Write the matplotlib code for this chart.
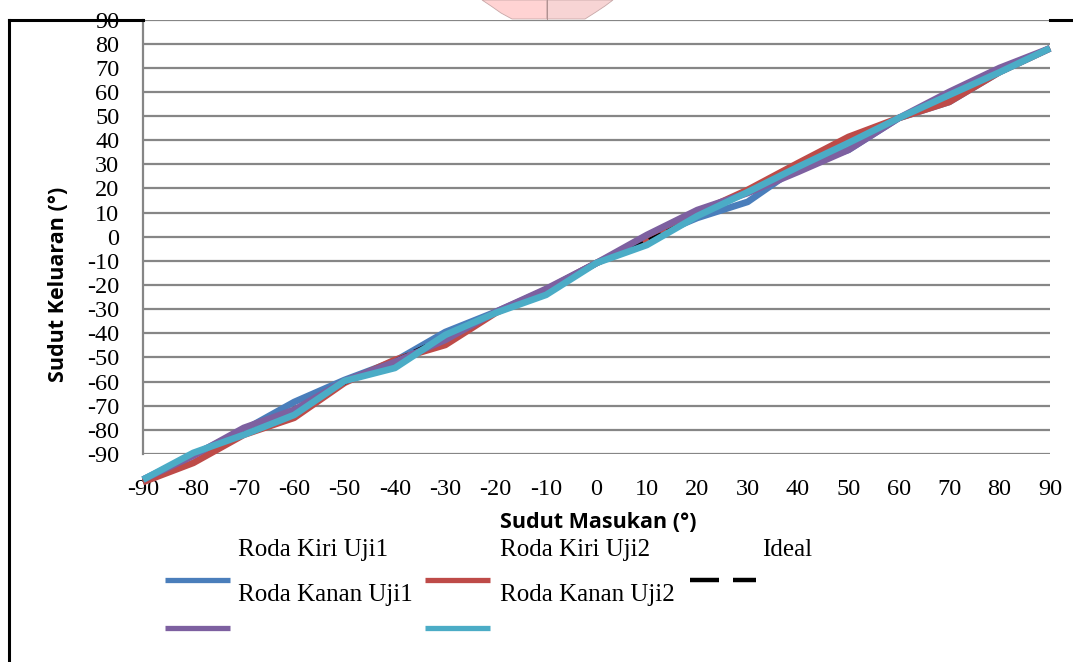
import numpy as np
import matplotlib
matplotlib.use("Agg")
import matplotlib.pyplot as plt
from matplotlib.lines import Line2D
from matplotlib.patches import Polygon

# ---------------- data ----------------
x_input = [-90, -80, -70, -60, -50, -40, -30, -20, -10, 0, 10, 20, 30, 40, 50, 60, 70, 80, 90]
roda_kiri_uji1 = [-90, -79.7, -69.3, -57.6, -48.4, -40.5, -28.4, -20, -10.8, 0.4, 10.4, 19.2, 25.9, 40.5, 47.6, 60.9, 67.6, 80.1, 89.9]
roda_kiri_uji2 = [-91, -83, -71.3, -64.2, -49.6, -40, -33.8, -20.4, -10.8, 0.4, 10, 21.3, 30.9, 42.1, 53, 60.9, 67.6, 80.1, 90]
ideal = [-90, -80, -70, -60, -50, -40, -30, -20, -10, 0, 10, 20, 30, 40, 50, 60, 70, 80, 90]
roda_kanan_uji1 = [-90, -80, -68.4, -60.9, -48.8, -40.9, -31.7, -20, -10.4, 0.4, 12.1, 22.5, 29.6, 38.4, 47.6, 60.9, 71.8, 81.8, 90]
roda_kanan_uji2 = [-90, -78.8, -71.3, -63, -48.8, -43.4, -29.6, -20.4, -12.9, 0.4, 7.9, 20, 30, 40.5, 50.5, 60.9, 70.5, 80, 90]

x_tick_labels = ["-90", "-80", "-70", "-60", "-50", "-40", "-30", "-20", "-10", "0",
                 "10", "20", "30", "40", "50", "60", "70", "80", "90"]
y_tick_labels = ["-90", "-80", "-70", "-60", "-50", "-40", "-30", "-20", "-10", "0",
                 "10", "20", "30", "40", "50", "60", "70", "80", "90"]

series_names = ["Roda Kiri Uji1", "Roda Kiri Uji2", "Ideal", "Roda Kanan Uji1", "Roda Kanan Uji2"]

# ---------------- style ----------------
W, H = 1073, 662
C_BLUE = "#4A7EBB"
C_RED = "#BE4B48"
C_PURPLE = "#7D60A0"
C_CYAN = "#4BACC6"
C_GRID = "#868686"
SERIF = "Liberation Serif"
SANS = "Open Sans"

def fx(px):
    return px / W

def fy(py):
    return 1 - py / H

fig = plt.figure(figsize=(W / 100, H / 100), dpi=100)
fig.patch.set_facecolor("white")

# axes placement (pixels)
ax_l, ax_r, ax_t, ax_b = 143, 1050, 19.5, 454
ax = fig.add_axes([fx(ax_l), fy(ax_b), fx(ax_r) - fx(ax_l), fy(ax_t) - fy(ax_b)])

ylo, yhi = -79.3, 102.0
ax.set_xlim(-90, 90)
ax.set_ylim(ylo, yhi)

ax.set_yticks(np.linspace(ylo, yhi, len(y_tick_labels)))
ax.set_yticklabels(y_tick_labels, fontfamily=SERIF, fontsize=17.5)
ax.set_xticks(x_input)
ax.set_xticklabels(x_tick_labels, fontfamily=SERIF, fontsize=17.5)
ax.tick_params(axis="y", length=0, pad=17)
ax.tick_params(axis="x", length=0, pad=18)

ax.grid(axis="y", color=C_GRID, lw=1.6, zorder=0)
ax.grid(axis="x", visible=False)
for s in ["right", "bottom", "top"]:
    ax.spines[s].set_visible(False)
ax.spines["left"].set_color(C_GRID)
ax.spines["left"].set_linewidth(1.6)

lw = 4.8
common = dict(lw=lw, clip_on=False, solid_capstyle="butt", solid_joinstyle="round", zorder=3)
ax.plot(x_input, roda_kiri_uji1, color=C_BLUE, **common)
ax.plot(x_input, roda_kiri_uji2, color=C_RED, **common)
ax.plot(x_input, ideal, color="black", lw=1.6, ls=(0, (6, 3)), clip_on=False, zorder=3)
ax.plot(x_input, roda_kanan_uji1, color=C_PURPLE, **common)
ax.plot(x_input, roda_kanan_uji2, color=C_CYAN, **common)

# axis titles
fig.text(fx(59), fy(284), "Sudut Keluaran (°)", rotation=90, ha="center", va="center",
         fontfamily=SANS, fontweight="bold", fontsize=15.5)
fig.text(fx(598), fy(523), "Sudut Masukan (°)", ha="center", va="center",
         fontfamily=SANS, fontweight="bold", fontsize=15.5)

# legend (manually placed as in the reference)
lab_kw = dict(fontfamily=SERIF, fontsize=18, va="center", ha="left")
fig.text(fx(238), fy(550), series_names[0], **lab_kw)
fig.text(fx(500), fy(550), series_names[1], **lab_kw)
fig.text(fx(762), fy(550), series_names[2], **lab_kw)
fig.text(fx(238), fy(595), series_names[3], **lab_kw)
fig.text(fx(500), fy(595), series_names[4], **lab_kw)

def leg_line(x0, x1, y, color, **kw):
    fig.add_artist(Line2D([fx(x0), fx(x1)], [fy(y), fy(y)], color=color,
                          transform=fig.transFigure, solid_capstyle="butt", **kw))

leg_line(165, 230, 580, C_BLUE, lw=3.8)
leg_line(425, 490, 580, C_RED, lw=3.8)
leg_line(690, 719, 580, "black", lw=3.2)
leg_line(733, 756, 580, "black", lw=3.2)
leg_line(165, 230, 628, C_PURPLE, lw=3.8)
leg_line(425, 490, 628, C_CYAN, lw=3.8)

# outer chart-area border (black)
fig.add_artist(Line2D([fx(8.5), fx(8.5)], [fy(19.5), fy(H + 5)], color="black", lw=2.2,
                      transform=fig.transFigure))
fig.add_artist(Line2D([fx(8.5), fx(ax_l)], [fy(19.5), fy(19.5)], color="black", lw=2.2,
                      transform=fig.transFigure))
fig.add_artist(Line2D([fx(ax_r), fx(W + 5)], [fy(19.5), fy(19.5)], color="black", lw=2.2,
                      transform=fig.transFigure))

# pink decoration at top centre
left_half = [(482, 0), (547, 0), (547, 19), (512, 19), (501, 13), (491, 6)]
right_half = [(547, 0), (613, 0), (605, 6), (596, 12), (585, 19), (547, 19)]
for pts, col in [(left_half, "#FFD3D3"), (right_half, "#F7D4D4")]:
    fig.add_artist(Polygon([(fx(a), fy(b)) for a, b in pts], closed=True, facecolor=col,
                           edgecolor="#C8A8A8", lw=0.6, transform=fig.transFigure))
fig.add_artist(Line2D([fx(547), fx(547)], [fy(0), fy(19)], color="#B09090", lw=0.7,
                      transform=fig.transFigure))

fig.savefig("out.png", dpi=100, facecolor="white")
